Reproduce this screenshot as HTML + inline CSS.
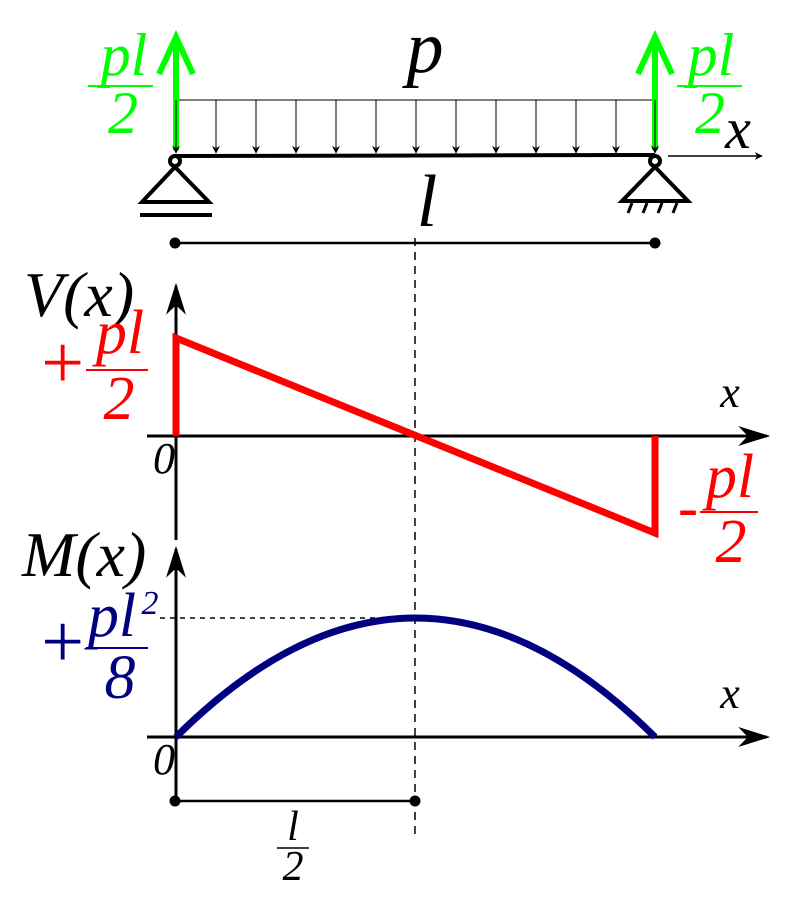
<!DOCTYPE html>
<html><head><meta charset="utf-8"><style>html,body{margin:0;padding:0;background:#fff}svg{display:block}text{font-family:"Liberation Serif","DejaVu Serif",serif;font-style:italic}</style></head>
<body>
<svg width="800" height="900" viewBox="0 0 800 900" xmlns="http://www.w3.org/2000/svg">
<defs>
<marker id="ah" viewBox="0 0 10 10" refX="9" refY="5" markerWidth="8" markerHeight="8" orient="auto" markerUnits="userSpaceOnUse"><path d="M0,0 L10,5 L0,10 L3,5 z" fill="#000"/></marker>
<marker id="big" viewBox="0 0 10 10" refX="9" refY="5" markerWidth="32" markerHeight="20" orient="auto" markerUnits="userSpaceOnUse" preserveAspectRatio="none"><path d="M0,0 L10,5 L0,10 L3,5 z" fill="#000"/></marker>
</defs>
<polyline points="176,152 176,100 655,100 655,152" fill="none" stroke="#000" stroke-width="1"/>
<g stroke="#000" stroke-width="1" marker-end="url(#ah)">
<line x1="216" y1="100" x2="216" y2="153"/><line x1="256" y1="100" x2="256" y2="153"/><line x1="296" y1="100" x2="296" y2="153"/><line x1="336" y1="100" x2="336" y2="153"/><line x1="376" y1="100" x2="376" y2="153"/><line x1="416" y1="100" x2="416" y2="153"/><line x1="456" y1="100" x2="456" y2="153"/><line x1="496" y1="100" x2="496" y2="153"/><line x1="536" y1="100" x2="536" y2="153"/><line x1="576" y1="100" x2="576" y2="153"/><line x1="616" y1="100" x2="616" y2="153"/>
</g>
<g stroke="#00ff00" stroke-width="6" fill="none">
<line x1="176" y1="150" x2="176" y2="40"/><polyline points="159,74 176,37 193,74"/>
<line x1="655" y1="150" x2="655" y2="40"/><polyline points="638,74 655,37 672,74"/>
</g>
<g stroke="#000" stroke-width="1" marker-end="url(#ah)"><line x1="176" y1="100" x2="176" y2="153"/><line x1="655" y1="100" x2="655" y2="153"/></g>
<line x1="176" y1="156" x2="655" y2="155" stroke="#000" stroke-width="4"/>
<g stroke="#000" stroke-width="4" fill="#fff">
<polygon points="175,167 142,202 209,202"/>
<line x1="140" y1="215" x2="212" y2="215"/>
<polygon points="655,167 622,201 688,201"/>
<circle cx="175" cy="161" r="5"/><circle cx="655" cy="161" r="5"/>
</g>
<g stroke="#000" stroke-width="3"><line x1="632" y1="203" x2="628" y2="213"/><line x1="647" y1="203" x2="643" y2="213"/><line x1="662" y1="203" x2="658" y2="213"/><line x1="677" y1="203" x2="673" y2="213"/></g>
<line x1="668" y1="156" x2="762" y2="156" stroke="#000" stroke-width="1.5" marker-end="url(#ah)"/>
<text x="425" y="72" font-size="74" text-anchor="middle">p</text>
<text x="738" y="148" font-size="58" text-anchor="middle">x</text>
<text x="427" y="226" font-size="74" text-anchor="middle">l</text>
<g fill="#00ff00" font-size="60" text-anchor="middle">
<text x="124" y="75">pl</text><text x="123" y="133">2</text>
<text x="711" y="75">pl</text><text x="710" y="133">2</text>
</g>
<g stroke="#00ff00" stroke-width="2"><line x1="88" y1="86" x2="153" y2="86"/><line x1="677" y1="86" x2="742" y2="86"/></g>
<line x1="175" y1="243" x2="655" y2="243" stroke="#000" stroke-width="2.5"/>
<circle cx="175" cy="243" r="5.5"/><circle cx="655" cy="243" r="5.5"/>
<line x1="415" y1="238" x2="415" y2="835" stroke="#000" stroke-width="1.5" stroke-dasharray="8,6"/>
<line x1="176" y1="540" x2="176" y2="286" stroke="#000" stroke-width="3" marker-end="url(#big)"/>
<line x1="147" y1="436" x2="767" y2="436" stroke="#000" stroke-width="3" marker-end="url(#big)"/>
<polyline points="176,436 176,338 655,533 655,436" fill="none" stroke="#ff0000" stroke-width="7"/>
<text x="24" y="316" font-size="64">V(x)</text>
<text x="730" y="407" font-size="44" text-anchor="middle">x</text>
<text x="164" y="473" font-size="44" text-anchor="middle">0</text>
<g fill="#ff0000" font-size="62" text-anchor="middle">
<text x="62" y="388" font-size="76">+</text>
<text x="120" y="353">pl</text><text x="119" y="419">2</text>
<text x="688" y="527" font-size="60">-</text>
<text x="730" y="497">pl</text><text x="731" y="562">2</text>
</g>
<g stroke="#ff0000" stroke-width="2"><line x1="86" y1="370" x2="148" y2="370"/><line x1="700" y1="512" x2="758" y2="512"/></g>
<line x1="176" y1="800" x2="176" y2="549" stroke="#000" stroke-width="3" marker-end="url(#big)"/>
<line x1="147" y1="737" x2="767" y2="737" stroke="#000" stroke-width="3" marker-end="url(#big)"/>
<line x1="160" y1="618" x2="415" y2="618" stroke="#000" stroke-width="1.5" stroke-dasharray="5,5"/>
<path d="M176,737 Q415,499 655,737" fill="none" stroke="#000080" stroke-width="7"/>
<text x="22" y="576" font-size="64">M(x)</text>
<text x="730" y="708" font-size="44" text-anchor="middle">x</text>
<text x="164" y="774" font-size="44" text-anchor="middle">0</text>
<g fill="#000080" font-size="62" text-anchor="middle">
<text x="62" y="667" font-size="76">+</text>
<text x="112" y="636">pl</text><text x="150" y="614" font-size="34">2</text><text x="120" y="698">8</text>
</g>
<line x1="86" y1="648" x2="148" y2="648" stroke="#000080" stroke-width="2"/>
<line x1="175" y1="801" x2="415" y2="801" stroke="#000" stroke-width="2.5"/>
<circle cx="175" cy="801" r="5.5"/><circle cx="415" cy="801" r="5.5"/>
<text x="293" y="840" font-size="42" text-anchor="middle">l</text>
<line x1="277" y1="848" x2="309" y2="848" stroke="#000" stroke-width="1.5"/>
<text x="293" y="880" font-size="42" text-anchor="middle">2</text>
</svg>
</body></html>
